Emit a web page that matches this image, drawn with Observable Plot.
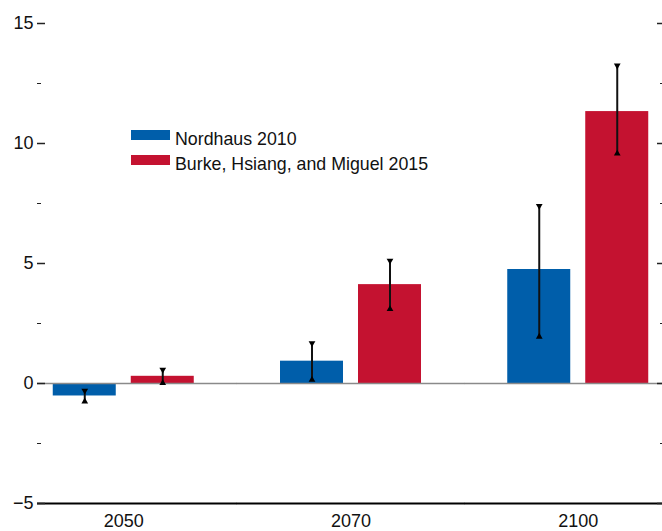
<!DOCTYPE html>
<html>
<head>
<meta charset="utf-8">
<script src="https://cdn.jsdelivr.net/npm/d3@7"></script>
<script src="https://cdn.jsdelivr.net/npm/@observablehq/plot@0.6"></script>
<style>
  html, body { margin: 0; padding: 0; background: #fff; }
  #wrap { position: relative; width: 662px; height: 531px; overflow: hidden;
          font-family: "Liberation Sans", Arial, sans-serif; }
  #legend { position: absolute; left: 131px; top: 129px; }
  .row { position: relative; height: 25px; white-space: nowrap; }
  .sw { position: absolute; left: 0; top: 1px; width: 39px; height: 9.5px; }
  .lab { position: absolute; left: 44px; top: 0; font-size: 17.8px; line-height: 20px; color: #111; }
</style>
</head>
<body>
<div id="wrap"></div>
<script>
const years = ["2050", "2070", "2100"];
const series = ["Nordhaus 2010", "Burke, Hsiang, and Miguel 2015"];
const nordhaus = [-0.52, 0.93, 4.75];
const nordhausLow = [-0.75, 0.15, 1.95];
const nordhausHigh = [-0.3, 1.68, 7.4];
const burke = [0.3, 4.12, 11.33];
const burkeLow = [0.02, 3.1, 9.58];
const burkeHigh = [0.58, 5.12, 13.25];
const colors = ["#005eaa", "#c41230"];
const yTicks = [-5, 0, 5, 10, 15];
const yMinorTicks = [-2.5, 2.5, 7.5, 12.5];
const baselines = [0, -5];

const data = years.flatMap((yr, i) => [
  {year: yr, series: series[0], value: nordhaus[i], lo: nordhausLow[i], hi: nordhausHigh[i]},
  {year: yr, series: series[1], value: burke[i], lo: burkeLow[i], hi: burkeHigh[i]}
]);

const fmt = d => d < 0 ? "\u2212" + Math.abs(d) : String(d);

// horizontal rules (zero line and bottom axis line) drawn in each facet, extended over the gaps
const halfGap = 35.5;
const ruleMarks = years.flatMap((yr, i) => {
  const rows = baselines.map(b => ({year: yr, y: b}));
  const insetLeft = i === 0 ? -8 : -halfGap;
  const insetRight = i === years.length - 1 ? -6 : -halfGap;
  return [
    Plot.ruleY(rows.filter(r => r.y === 0), {fx: "year", y: "y", stroke: "#8a8a8a", strokeWidth: 1.5, insetLeft, insetRight}),
    Plot.ruleY(rows.filter(r => r.y !== 0), {fx: "year", y: "y", stroke: "#000", strokeWidth: 2, insetLeft, insetRight})
  ];
});

const chart = Plot.plot({
  width: 662,
  height: 531,
  marginTop: 23,
  marginBottom: 28,
  marginLeft: 45,
  marginRight: 6,
  style: {fontFamily: '"Liberation Sans", Arial, sans-serif', fontSize: "18px", color: "#111", background: "white"},
  fx: {domain: years, paddingInner: 0.3113, paddingOuter: 0, round: false, label: null, axis: "bottom", tickSize: 0, tickPadding: 11},
  x: {domain: series, paddingInner: 0.1923, paddingOuter: 0.0994, round: false, axis: null},
  y: {domain: [-5, 15], axis: null},
  color: {domain: series, range: colors},
  marks: [
    Plot.barY(data, {fx: "year", x: "series", y: "value", fill: "series"}),
    ...ruleMarks,
    Plot.ruleX(data, {fx: "year", x: "series", y1: "lo", y2: "hi", stroke: "#111", strokeWidth: 2}),
    Plot.dot(data, {fx: "year", x: "series", y: "hi", symbol: "triangle", rotate: 180, r: 2.5, fill: "#000", stroke: "none"}),
    Plot.dot(data, {fx: "year", x: "series", y: "lo", symbol: "triangle", r: 2.5, fill: "#000", stroke: "none"}),
    Plot.axisY({anchor: "left", ticks: yTicks, tickSize: 8, tickPadding: 4, tickFormat: fmt, label: null, stroke: "#222", strokeWidth: 1.5}),
    Plot.axisY({anchor: "left", ticks: yMinorTicks, tickSize: 4, dx: -4, tickFormat: () => "", label: null, stroke: "#222", strokeWidth: 1}),
    Plot.axisY({anchor: "right", ticks: yTicks, tickSize: 6, tickFormat: () => "", label: null, stroke: "#222", strokeWidth: 1.5}),
    Plot.axisY({anchor: "right", ticks: yMinorTicks, tickSize: 3, dx: 3, tickFormat: () => "", label: null, stroke: "#222", strokeWidth: 1})
  ]
});

const wrap = document.getElementById("wrap");
wrap.appendChild(chart);

const legend = document.createElement("div");
legend.id = "legend";
series.forEach((s, i) => {
  const row = document.createElement("div");
  row.className = "row";
  const sw = document.createElement("div");
  sw.className = "sw";
  sw.style.background = colors[i];
  const lab = document.createElement("span");
  lab.className = "lab";
  lab.textContent = s;
  row.appendChild(sw);
  row.appendChild(lab);
  legend.appendChild(row);
});
wrap.appendChild(legend);
</script>
</body>
</html>
